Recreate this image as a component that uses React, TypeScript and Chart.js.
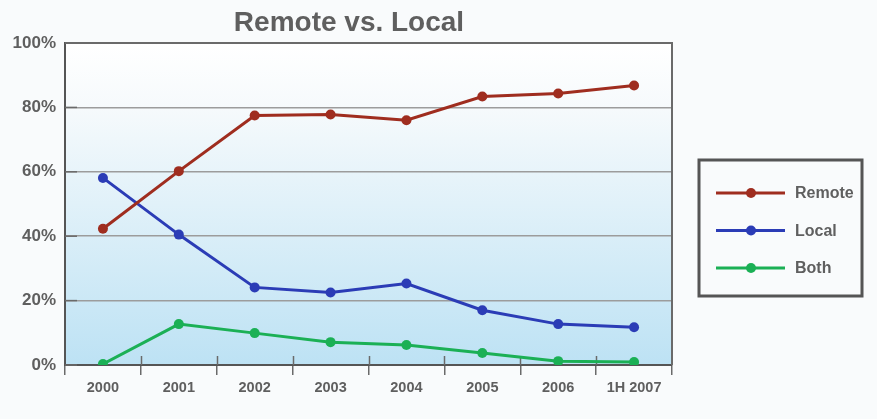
import React, { useEffect, useRef } from "react";
import { Chart, registerables } from "chart.js";

Chart.register(...registerables);

const categories = ["2000", "2001", "2002", "2003", "2004", "2005", "2006", "1H 2007"];
const remote = [42.3, 60.2, 77.5, 77.8, 76.0, 83.4, 84.3, 86.8];
const local = [58.1, 40.5, 24.1, 22.5, 25.3, 17.0, 12.7, 11.7];
const both = [0.3, 12.7, 9.9, 7.1, 6.2, 3.7, 1.2, 0.9];
const yTicks = [0, 20, 40, 60, 80, 100];
const titleText = "Remote vs. Local";

const FONT = "'Liberation Sans', Arial, Helvetica, sans-serif";
const TEXT = "#5f5f5f";

const decorPlugin = {
  id: "decor",
  beforeDraw(chart: any) {
    const { ctx, chartArea: a, width, height } = chart;
    ctx.save();
    ctx.fillStyle = "#f9fbfc";
    ctx.fillRect(0, 0, width, height);
    const g = ctx.createLinearGradient(0, a.top, 0, a.bottom);
    g.addColorStop(0, "#ffffff");
    g.addColorStop(0.2, "#f6fafc");
    g.addColorStop(1, "#bde2f4");
    ctx.fillStyle = g;
    ctx.fillRect(a.left, a.top, a.right - a.left, a.bottom - a.top);
    ctx.restore();
  },
  beforeDatasetsDraw(chart: any) {
    const { ctx, chartArea: a, scales } = chart;
    ctx.save();
    ctx.strokeStyle = "#6a6a6a";
    ctx.lineWidth = 1.5;
    // y tick stubs inside plot
    scales.y.ticks.forEach((t: any) => {
      const y = scales.y.getPixelForValue(t.value);
      ctx.beginPath();
      ctx.moveTo(a.left, y);
      ctx.lineTo(a.left + 12, y);
      ctx.stroke();
    });
    // x tick marks crossing axis
    const n = categories.length;
    const step = (a.right - a.left) / n;
    for (let i = 1; i < n; i++) {
      const x = Math.round(scales.x.getPixelForValue(i) - step / 2) + 0.5;
      ctx.beginPath();
      ctx.moveTo(x, a.bottom - 9);
      ctx.lineTo(x, a.bottom);
      ctx.stroke();
    }
    ctx.restore();
  },
  afterDatasetsDraw(chart: any) {
    const { ctx, chartArea: a } = chart;
    ctx.save();
    ctx.strokeStyle = "#6a6a6a";
    ctx.lineWidth = 2;
    ctx.beginPath();
    ctx.moveTo(a.left, a.top);
    ctx.lineTo(a.right, a.top);
    ctx.lineTo(a.right, a.bottom);
    ctx.stroke();
    // title
    ctx.fillStyle = TEXT;
    ctx.font = `bold 28px ${FONT}`;
    ctx.textAlign = "center";
    ctx.textBaseline = "middle";
    ctx.fillText(titleText, 349, 23);
    // legend
    const lx = 699, ly = 160, lw = 163, lh = 136;
    ctx.strokeStyle = "#555555";
    ctx.lineWidth = 3;
    ctx.strokeRect(lx, ly, lw, lh);
    ctx.font = `bold 16px ${FONT}`;
    ctx.textAlign = "left";
    chart.data.datasets.forEach((ds: any, i: number) => {
      const y = 193 + i * 37.5;
      ctx.strokeStyle = ds.borderColor;
      ctx.lineWidth = 3;
      ctx.beginPath();
      ctx.moveTo(716, y);
      ctx.lineTo(785, y);
      ctx.stroke();
      ctx.fillStyle = ds.borderColor;
      ctx.beginPath();
      ctx.arc(751, y, 5, 0, Math.PI * 2);
      ctx.fill();
      ctx.fillStyle = TEXT;
      ctx.fillText(ds.label, 795, y + 1);
    });
    ctx.restore();
  },
};

export default function App() {
  const ref = useRef<HTMLCanvasElement>(null);
  useEffect(() => {
    if (!ref.current) return;
    const mk = (label: string, data: number[], color: string) => ({
      label,
      data,
      borderColor: color,
      backgroundColor: color,
      borderWidth: 3,
      pointRadius: 5,
      pointBorderWidth: 0,
      pointBackgroundColor: color,
      tension: 0,
    });
    const chart = new Chart(ref.current, {
      type: "line",
      data: {
        labels: categories,
        datasets: [
          mk("Remote", remote, "#9f2d1f"),
          mk("Local", local, "#2b3cb6"),
          mk("Both", both, "#1bb055"),
        ],
      },
      options: {
        animation: false,
        responsive: false,
        maintainAspectRatio: false,
        layout: { padding: { left: 0, right: 205, top: 43, bottom: 0 } },
        plugins: { legend: { display: false }, title: { display: false }, tooltip: { enabled: false } },
        scales: {
          x: {
            offset: true,
            grid: { offset: true, drawOnChartArea: false, tickLength: 10, color: "#6a6a6a", lineWidth: 1.5 },
            border: { color: "#555555", width: 2 },
            ticks: { color: TEXT, font: { family: FONT, size: 14.5, weight: "bold" }, padding: 4, maxRotation: 0, autoSkip: false },
            afterFit: (s: any) => { s.height = 54; },
          },
          y: {
            min: 0,
            max: 100,
            afterBuildTicks: (s: any) => { s.ticks = yTicks.map((v) => ({ value: v })); },
            grid: { color: "#9c9c9c", lineWidth: 1.5, drawTicks: false },
            border: { color: "#555555", width: 2 },
            ticks: {
              color: TEXT,
              font: { family: FONT, size: 17, weight: "bold" },
              padding: 9,
              callback: (v: any) => `${v}%`,
            },
            afterFit: (s: any) => { s.width = 65; },
          },
        },
      },
      plugins: [decorPlugin],
    });
    return () => chart.destroy();
  }, []);
  return (
    <div style={{ position: "fixed", left: 0, top: 0, width: 877, height: 419 }}>
      <canvas ref={ref} width={877} height={419} style={{ width: 877, height: 419 }} />
    </div>
  );
}
